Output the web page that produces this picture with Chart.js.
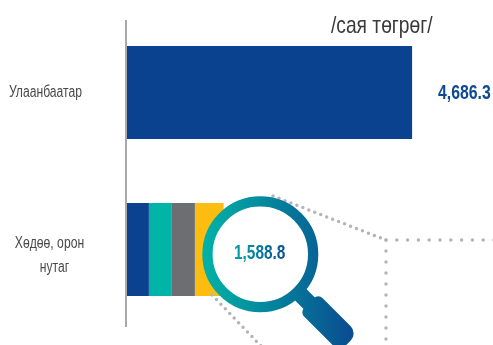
<!DOCTYPE html>
<html>
<head>
<meta charset="utf-8">
<script src="https://cdn.jsdelivr.net/npm/chart.js@4/dist/chart.umd.min.js"></script>
<style>
  html, body { margin: 0; padding: 0; background: #fff; overflow: hidden; }
  canvas { display: block; }
</style>
</head>
<body>
<canvas id="MoneyChart" width="493" height="345"></canvas>
<script>
const categories = [['Улаанбаатар'], ['Хөдөө, орон', 'нутаг']];
const part1 = [4686.3, 360];
const part2 = [0, 378];
const part3 = [0, 378];
const part4 = [0, 472.8];
const totals = ['4,686.3', '1,588.8'];
const unit = '/сая төгрөг/';

const FONT = '"Liberation Sans", sans-serif';

function dots(ctx, points, gap) {
    ctx.save();
    ctx.strokeStyle = '#b4b5b8';
    ctx.lineWidth = 3.5;
    ctx.lineCap = 'round';
    ctx.setLineDash([0, gap]);
    ctx.beginPath();
    points.forEach((p, i) => i ? ctx.lineTo(p[0], p[1]) : ctx.moveTo(p[0], p[1]));
    ctx.stroke();
    ctx.restore();
}

// the original type is condensed, no such font here so squeeze it
function narrowText(ctx, text, x, y, sx, align) {
    ctx.save();
    ctx.translate(x, y);
    ctx.scale(sx, 1);
    ctx.textAlign = align || 'left';
    ctx.textBaseline = 'middle';
    ctx.fillText(text, 0, 0);
    ctx.restore();
}

// axis line, labels and the magnifier
const extras = {
    id: 'extras',
    beforeDraw(chart) {
        const ctx = chart.ctx;
        ctx.save();
        ctx.fillStyle = '#fff';
        ctx.fillRect(0, 0, chart.width, chart.height);
        ctx.restore();
    },
    afterDatasetsDraw(chart) {
        const ctx = chart.ctx;
        const y = chart.scales.y;
        ctx.save();

        ctx.fillStyle = '#a7a9ac';
        ctx.fillRect(125, 20, 2, 307);

        ctx.fillStyle = '#4a4a4a';
        ctx.font = '16px ' + FONT;
        const y0 = y.getPixelForValue(0);
        const y1 = y.getPixelForValue(1);
        narrowText(ctx, categories[0][0], 45.5, y0, 0.76, 'center');
        narrowText(ctx, categories[1][0], 49.5, y1 - 5.5, 0.76, 'center');
        narrowText(ctx, categories[1][1], 54.5, y1 + 18.5, 0.76, 'center');

        ctx.fillStyle = '#3a3a3a';
        ctx.font = '24px ' + FONT;
        narrowText(ctx, unit, 331, 26, 0.8);

        ctx.fillStyle = '#0c4a92';
        ctx.font = 'bold 19.5px ' + FONT;
        narrowText(ctx, totals[0], 438, y0 + 1, 0.81);

        dots(ctx, [[273, 196], [386, 240]], 6.4);
        dots(ctx, [[386, 240], [495, 240]], 10.8);
        dots(ctx, [[386, 240], [386, 347]], 11);
        dots(ctx, [[212, 295], [262, 347]], 6.4);

        const grad = ctx.createLinearGradient(202, 0, 355, 0);
        grad.addColorStop(0, '#00b3a7');
        grad.addColorStop(1, '#0a4a90');

        // handle
        ctx.strokeStyle = grad;
        ctx.fillStyle = grad;
        ctx.lineWidth = 16;
        ctx.beginPath();
        ctx.moveTo(298, 292);
        ctx.lineTo(312, 306);
        ctx.stroke();
        const hx = 309, hy = 303, hl = 56, hw = 26;
        const corners = [[0, -hw / 2], [hl, -hw / 2], [hl, hw / 2], [0, hw / 2]].map(p => [
            hx + (p[0] - p[1]) * Math.SQRT1_2,
            hy + (p[0] + p[1]) * Math.SQRT1_2
        ]);
        ctx.beginPath();
        ctx.moveTo((corners[0][0] + corners[3][0]) / 2, (corners[0][1] + corners[3][1]) / 2);
        for (let i = 0; i < 4; i++) {
            const a = corners[i], b = corners[(i + 1) % 4];
            ctx.arcTo(a[0], a[1], b[0], b[1], i === 0 || i === 3 ? 6 : 10);
        }
        ctx.closePath();
        ctx.fill();

        // lens
        ctx.fillStyle = '#fff';
        ctx.beginPath();
        ctx.arc(260.3, 254.3, 50, 0, Math.PI * 2);
        ctx.fill();
        ctx.lineWidth = 10.3;
        ctx.beginPath();
        ctx.arc(260.3, 254.3, 52.85, 0, Math.PI * 2);
        ctx.stroke();

        // gradient runs in the text's own squeezed coordinates
        const textGrad = ctx.createLinearGradient(0, 0, 66, 0);
        textGrad.addColorStop(0, '#00a3a8');
        textGrad.addColorStop(1, '#0c4f92');
        ctx.fillStyle = textGrad;
        ctx.font = 'bold 19.5px ' + FONT;
        narrowText(ctx, totals[1], 234, y1 + 4, 0.79);

        ctx.restore();
    }
};

new Chart(document.getElementById('MoneyChart').getContext('2d'), {
    type: 'bar',
    data: {
        labels: categories,
        datasets: [
            { data: part1, backgroundColor: '#0a428f' },
            { data: part2, backgroundColor: '#00b5a8' },
            { data: part3, backgroundColor: '#6d6e71' },
            { data: part4, backgroundColor: '#fdbd10' }
        ]
    },
    options: {
        indexAxis: 'y',
        responsive: false,
        animation: false,
        layout: { padding: { top: 14, bottom: 17, right: 1 } },
        plugins: { legend: { display: false }, tooltip: { enabled: false } },
        datasets: { bar: { barPercentage: 0.592, categoryPercentage: 1 } },
        scales: {
            x: { stacked: true, display: false, min: 0, max: 6000 },
            y: {
                stacked: true,
                afterFit: s => { s.width = 127; s.paddingTop = 0; s.paddingBottom = 0; },
                border: { display: false },
                grid: { display: false, drawTicks: false },
                ticks: { display: false }
            }
        }
    },
    plugins: [extras]
});
</script>
</body>
</html>
